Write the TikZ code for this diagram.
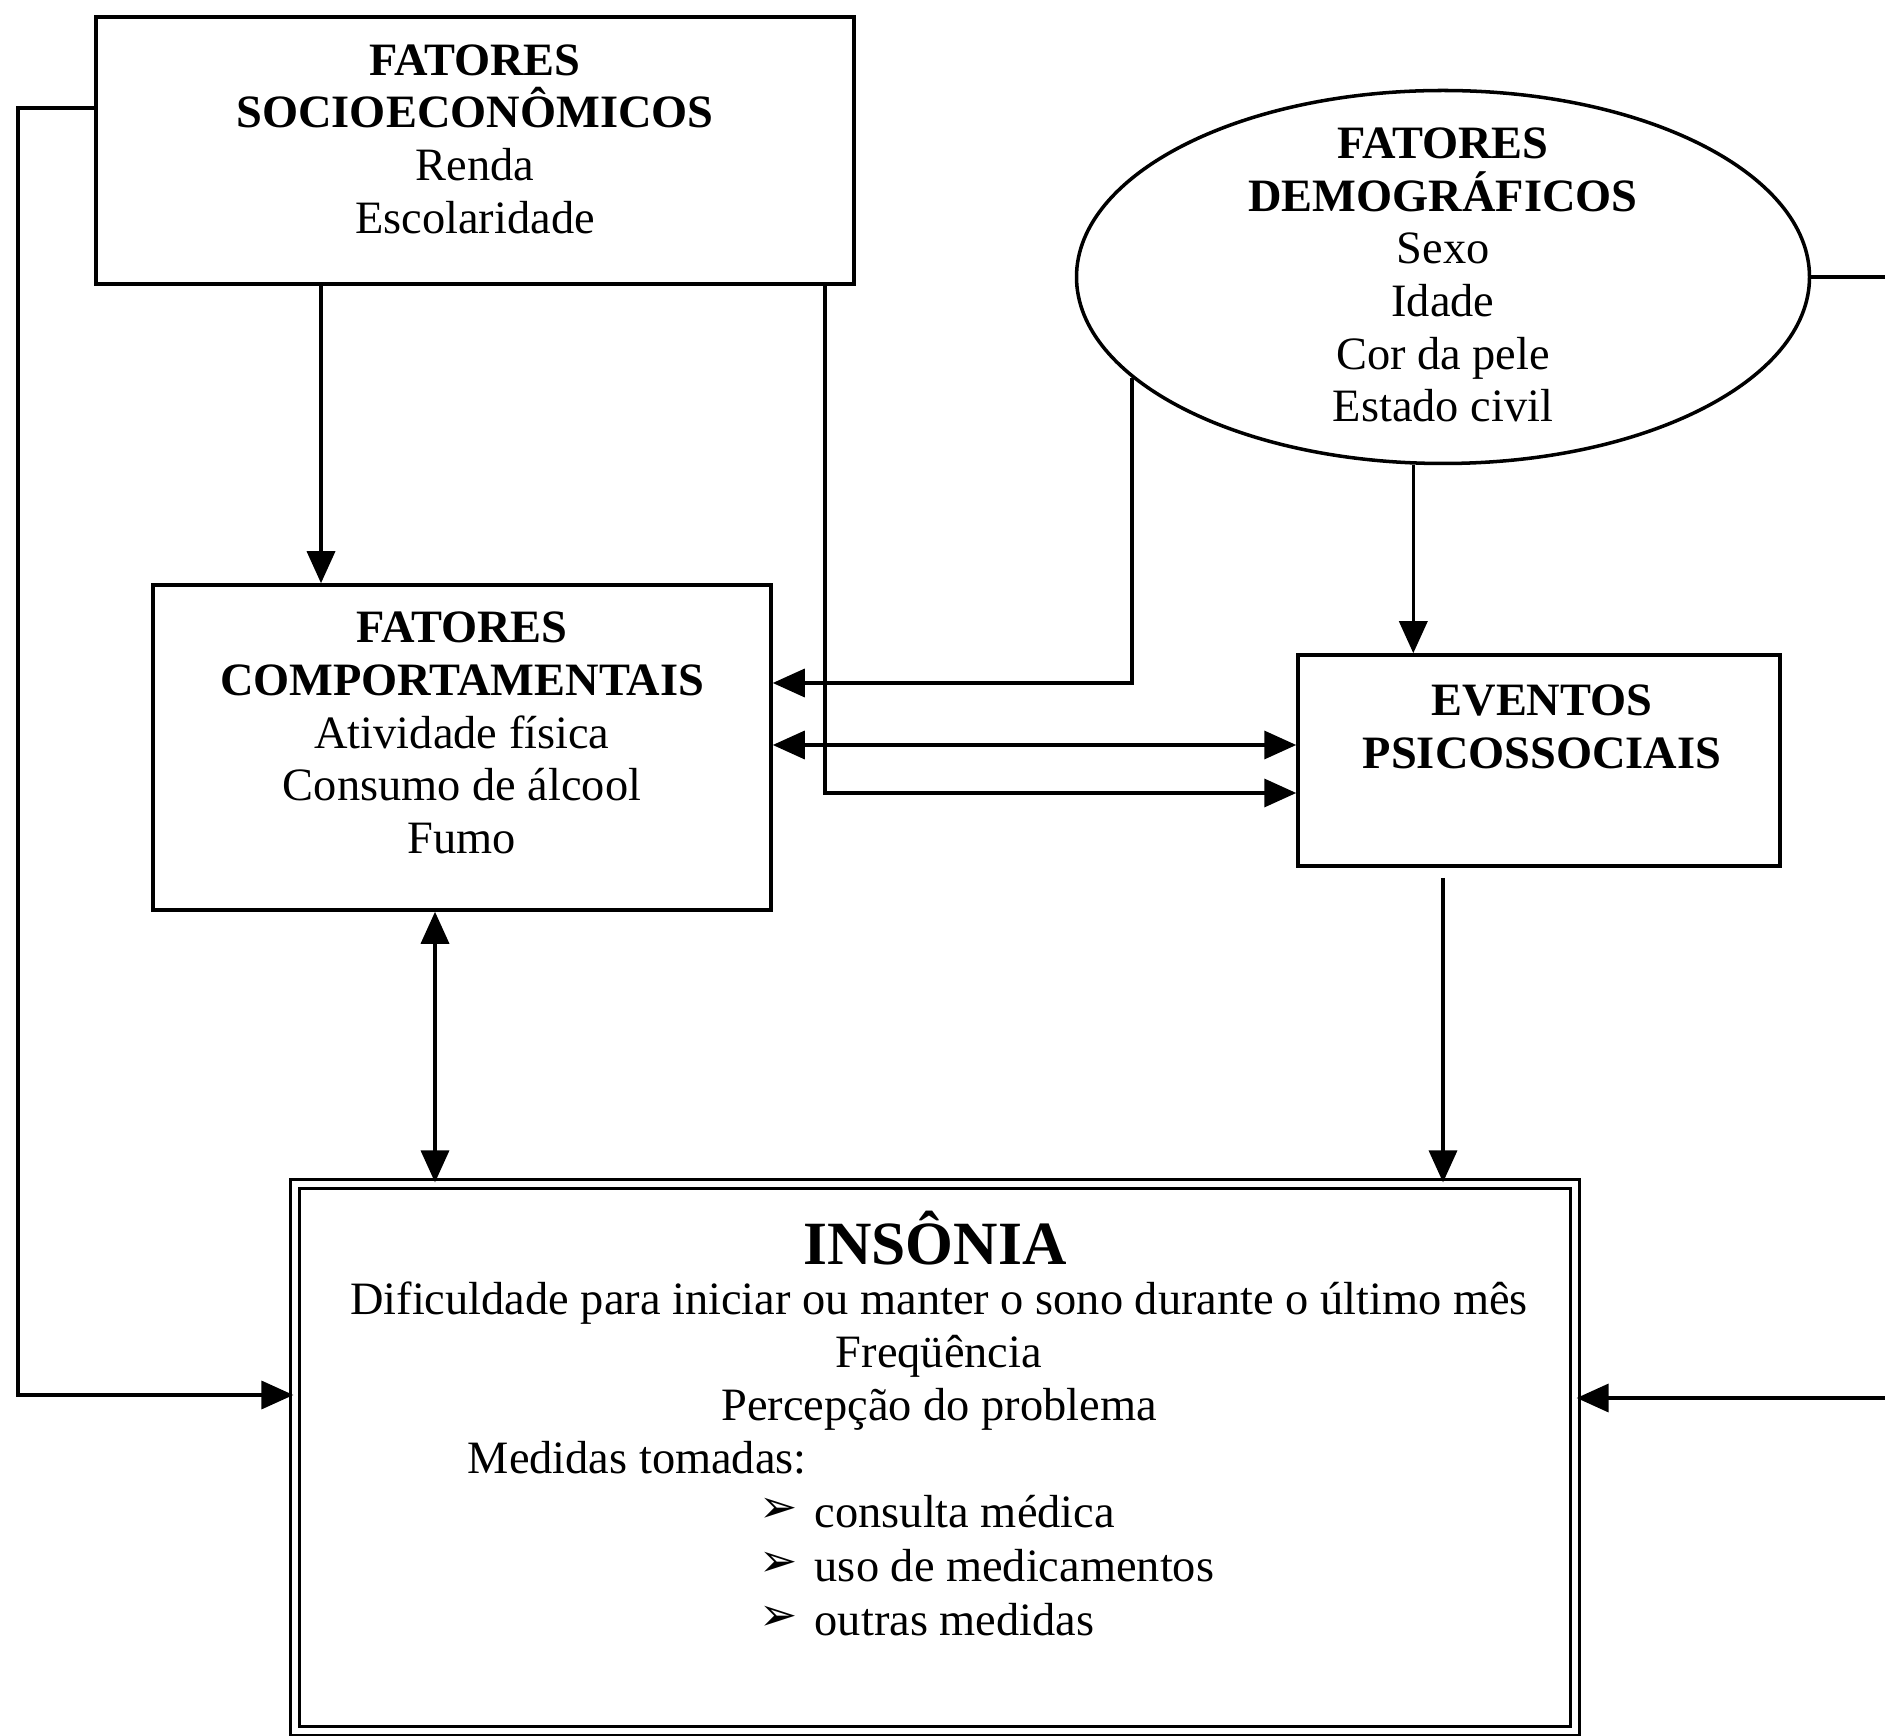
\documentclass[tikz,border=0pt]{standalone}
\usepackage{fontspec}
\setmainfont{Liberation Serif}
\newfontfamily\symbolfont{DejaVu Sans}
\usetikzlibrary{arrows.meta, positioning, shapes.geometric}
\tikzset{box/.style={draw, line width=1pt},
  oval/.style={draw, ellipse, line width=1pt},
  textonly/.style={align=center, inner sep=0pt, font=\fontsize{13.2}{15}\selectfont}}

\begin{document}
\begin{tikzpicture}[line width=1pt, >={Triangle[length=0.32cm, width=0.28cm]}]
            \useasboundingbox (0,0) rectangle (18.85,-17.36);
            % boxes
            \node[box, minimum width=7.58cm, minimum height=2.67cm] (socio) at (4.75,-1.505) {};
            \node[textonly] (socio_texto) at (4.75,-1.39) {\textbf{FATORES}\\\textbf{SOCIOECONÔMICOS}\\Renda\\Escolaridade};
            \node[oval, minimum width=7.33cm, minimum height=3.73cm] (demo) at (14.43,-2.77) {};
            \node[textonly] (demo_texto) at (14.43,-2.75) {\textbf{FATORES}\\\textbf{DEMOGRÁFICOS}\\Sexo\\Idade\\Cor da pele\\Estado civil};
            \node[box, minimum width=6.18cm, minimum height=3.25cm] (comp) at (4.62,-7.475) {};
            \node[textonly] (comp_texto) at (4.62,-7.33) {\textbf{FATORES}\\\textbf{COMPORTAMENTAIS}\\Atividade física\\Consumo de álcool\\Fumo};
            \node[box, minimum width=4.82cm, minimum height=2.11cm] (eventos) at (15.39,-7.605) {};
            \node[textonly] (eventos_texto) at (15.42,-7.27) {\textbf{EVENTOS}\\\textbf{PSICOSSOCIAIS}};
            \node[draw, double, double distance=1.6pt, line width=0.9pt, minimum width=12.8cm, minimum height=5.47cm] (insonia) at (9.35,-14.575) {};
            \node[textonly, font=\fontsize{17.5}{20}\selectfont\bfseries] (insonia_titulo) at (9.35,-12.38) {INSÔNIA};
            \node[textonly] (insonia_texto) at (9.39,-13.56) {Dificuldade para iniciar ou manter o sono durante o último mês\\Freqüência\\Percepção do problema};
            \node[textonly, anchor=west] (medidas) at (4.66,-14.58) {Medidas tomadas:};
            \foreach \medida [count=\i] in {consulta médica, uso de medicamentos, outras medidas}{
              \node[textonly, anchor=west] (medida\i) at (8.13,{-15.12-0.54*(\i-1)}) {\medida};
              \node[textonly, anchor=west, font=\symbolfont\fontsize{13}{15}\selectfont] (marca\i) at (7.58,{-15.10-0.54*(\i-1)}) {➢};
            }
            % connectors
            \coordinate (esq_alto) at (0.18,-1.08);
            \coordinate (esq_baixo) at (0.18,-13.95);
            \coordinate (dir_alto) at (18.85,-2.70);
            \coordinate (dir_baixo) at (18.85,-13.98);
            \coordinate (sc) at (3.21,0);
            \coordinate (se) at (8.25,-7.93);
            \coordinate (dc) at (0,-6.83);
            \coordinate (ce) at (0,-7.45);
            \coordinate (ci) at (4.35,0);
            \coordinate (ei) at (14.43,-8.78);
            \draw[->] (socio.west |- esq_alto) -- (esq_alto) -- (esq_baixo) -- (insonia.west |- esq_baixo);
            \draw[->] (socio.south -| sc) -- (comp.north -| sc);
            \draw[->] (socio.south -| se) -- (se) -- (eventos.west |- se);
            \draw[->] (demo.198) |- (comp.east |- dc);
            \draw[<->] (comp.east |- ce) -- (eventos.west |- ce);
            \draw[->] (demo.261) -- (eventos.north -| demo.261);
            \draw[->] (ei) -- (insonia.north -| ei);
            \draw[<->] (comp.south -| ci) -- (insonia.north -| ci);
            \draw (demo.east) -- (demo.east -| dir_alto);
            \draw[->] (dir_baixo) -- (insonia.east |- dir_baixo);
      \end{tikzpicture}
\end{document}
